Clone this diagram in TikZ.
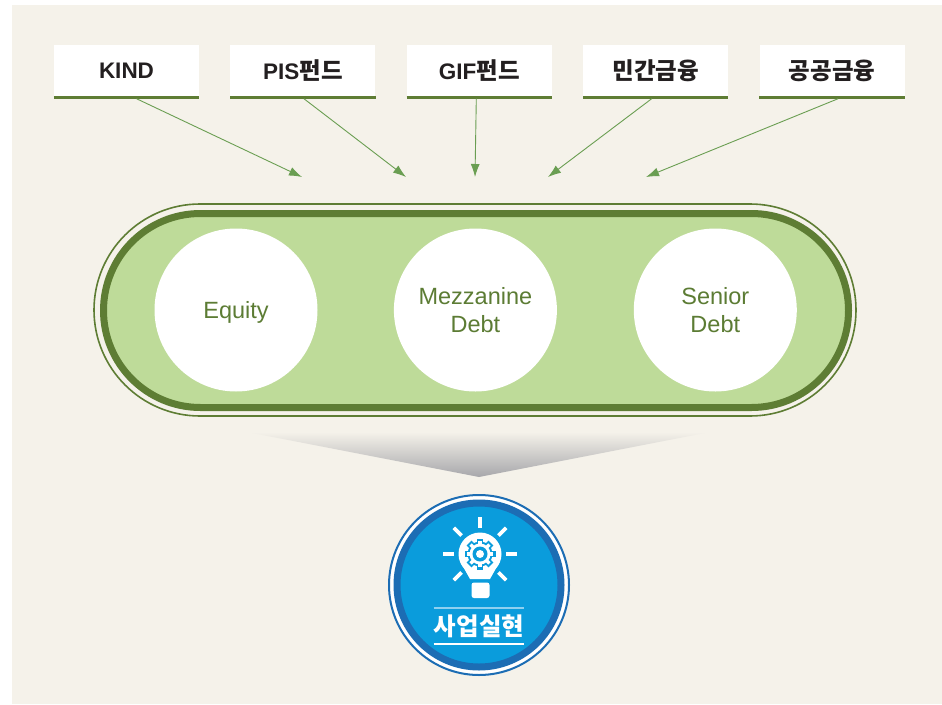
\documentclass[tikz,border=0pt]{standalone}
\usepackage{fontspec}
\setmainfont{Liberation Sans}
\newfontfamily\kr{Noto Sans CJK KR}
\usetikzlibrary{calc,positioning,arrows.meta,shapes}

\definecolor{paper}{HTML}{F5F2EA}
\definecolor{leafdark}{HTML}{5E7D34}
\definecolor{leaflight}{HTML}{BEDB99}
\definecolor{leaftext}{HTML}{5C7C34}
\definecolor{leafarrow}{HTML}{6A9E52}
\definecolor{boxtext}{HTML}{231F20}
\definecolor{shadowgray}{HTML}{A7A7AB}
\definecolor{bluedark}{HTML}{1C6DB4}
\definecolor{bluefill}{HTML}{0A9CDC}
\definecolor{bluelight}{HTML}{8ED0F0}

\begin{document}
\begin{tikzpicture}[x=1pt, y=-1pt,
			src/.style     = {fill=white, minimum width=145pt, minimum height=52pt, inner sep=0pt, text=boxtext, font=\fontsize{22.5}{24}\selectfont\bfseries},
			srcline/.style = {draw=leafdark, line width=3pt},
			feed/.style    = {draw=leafarrow, line width=0.9pt, -{Latex[length=13pt,width=9pt]}},
			tranche/.style = {circle, fill=white, minimum size=163pt, inner sep=0pt, align=center, text depth=0pt, text=leaftext, font=\fontsize{23.5}{28}\selectfont},
			medal/.style   = {circle, inner sep=0pt, draw=bluedark},
			ray/.style     = {draw=white, line width=3.6pt}]
			
			% page and background
			\useasboundingbox (0,0) rectangle (942,704);
			\fill[white] (0,0) rectangle (942,704);
			\fill[paper] (12,5) rectangle (942,704);
			
			% top row, the sources of money
			\node[src] (s1) at (126.5,71) {KIND};
			\node[src, right=31pt of s1] (s2) {PIS{\kr\fontsize{23.5}{24}\selectfont 펀드}};
			\node[src, right=31pt of s2] (s3) {GIF{\kr\fontsize{23.5}{24}\selectfont 펀드}};
			\node[src, right=31pt of s3] (s4) {\kr\fontsize{23.5}{24}\selectfont 민간금융};
			\node[src, right=31pt of s4] (s5) {\kr\fontsize{23.5}{24}\selectfont 공공금융};
			
			\foreach \value in {1,...,5}
			\draw[srcline] (s\value.south west) -- (s\value.south east);
			
			% arrow ends above the capsule
			\coordinate (t1) at (302,177);
			\coordinate (t2) at (406,177);
			\coordinate (t3) at (475,177);
			\coordinate (t4) at (548,177);
			\coordinate (t5) at (646,177);
			
			\foreach \value/\dx in {1/10, 2/1, 3/-3, 4/-4, 5/6}
			\draw[feed] ($(s\value.south)+(\dx,1.5)$) -- (t\value);
			
			% the capsule with the three tranches
			\node[draw=leafdark, line width=1.6pt, rounded corners=106pt, minimum width=762pt, minimum height=212pt, inner sep=0pt] (capout) at (475,310) {};
			\node[draw=leafdark, fill=leaflight, line width=7pt, rounded corners=97pt, minimum width=745pt, minimum height=194pt, inner sep=0pt] (cap) at (476,310.5) {};
			
			\node[tranche] (eq) at (236,310) {Equity};
			\node[tranche, right=76pt of eq] (mz) {Mezzanine\\Debt};
			\node[tranche, right=76.5pt of mz] (sn) {Senior\\Debt};
			
			% shadow under the capsule
			\shade[top color=paper, bottom color=shadowgray] (247,432) -- (710,432) -- (479,477) -- cycle;
			
			% medallion
			\node[medal, line width=2pt, fill=white, minimum size=180pt] (medout) at (479,585) {};
			\node[medal, line width=7pt, fill=bluefill, minimum size=164pt] (med) at (479,585) {};
			
			% bulb icon
			\coordinate (bulb) at (480,554);
			\fill[white] (bulb) circle (21.5);
			\fill[white] (461,563) -- (470,579) -- (490,579) -- (499,563) -- cycle;
			\fill[white, rounded corners=2.5pt] (471.5,582.5) rectangle (489.5,598);
			\foreach \a in {0,45,135,180,225,270,315}
			\draw[ray] ($(bulb)+(\a:26)$) -- ($(bulb)+(\a:37)$);
			
			% gear in the bulb
			\fill[bluefill] (bulb) circle (12.5);
			\foreach \a in {0,45,...,315}
			\fill[bluefill, rotate around={\a:(bulb)}] ($(bulb)+(-3.4,-15.5)$) rectangle ($(bulb)+(3.4,0)$);
			\fill[white] (bulb) circle (10.5);
			\foreach \a in {0,45,...,315}
			\fill[white, rotate around={\a:(bulb)}] ($(bulb)+(-1.7,-13.3)$) rectangle ($(bulb)+(1.7,0)$);
			\fill[bluefill] (bulb) circle (7.5);
			\fill[white] (bulb) circle (4);
			
			% label of the medallion
			\node[inner xsep=0pt, text=white, font=\kr\bfseries\fontsize{24.5}{26}\selectfont] (act) at (479,626) {사업실현};
			\draw[draw=bluelight, line width=1.5pt] ($(act.west)+(0,-18)$) -- ($(act.east)+(0,-18)$);
			\draw[draw=white, line width=1.5pt] ($(act.west)+(0,18)$) -- ($(act.east)+(0,18)$);
		\end{tikzpicture}
\end{document}
